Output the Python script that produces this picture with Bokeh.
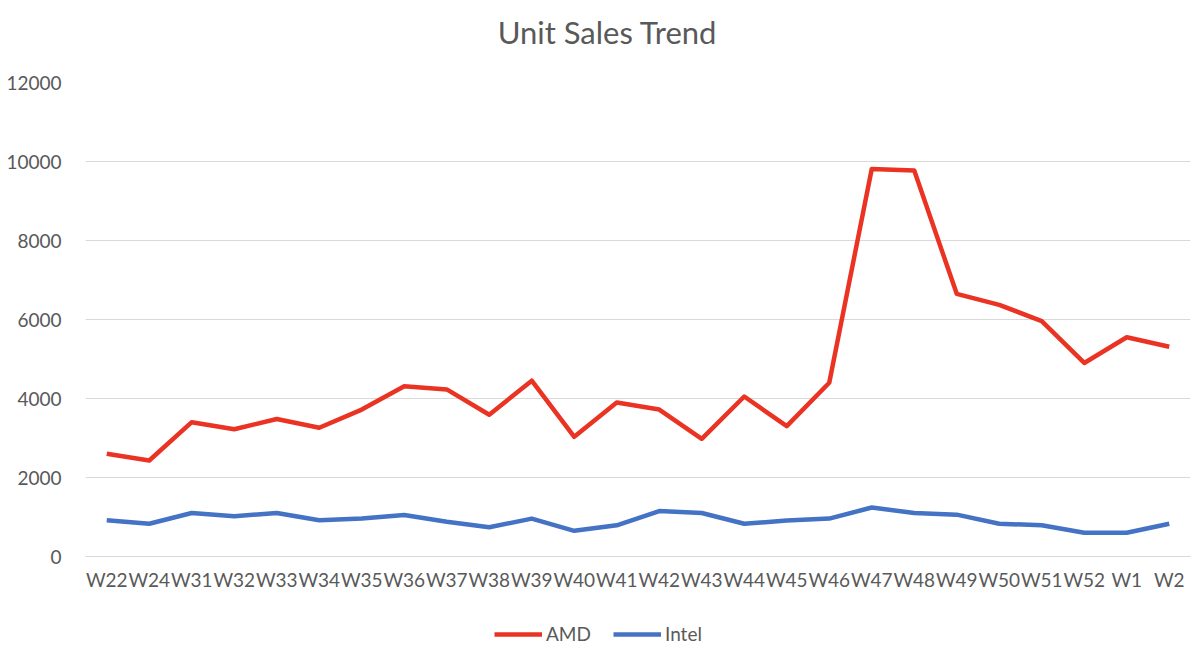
from bokeh.plotting import figure
from bokeh.models import FactorRange, Range1d, Legend, LegendItem, SingleIntervalTicker, Label
from bokeh.layouts import column
from bokeh.embed import file_html
from bokeh.resources import INLINE

weeks = ["W22", "W24", "W31", "W32", "W33", "W34", "W35", "W36", "W37", "W38",
         "W39", "W40", "W41", "W42", "W43", "W44", "W45", "W46", "W47", "W48",
         "W49", "W50", "W51", "W52", "W1", "W2"]
amd = [2600, 2430, 3400, 3220, 3480, 3260, 3720, 4310, 4230, 3590,
       4450, 3030, 3900, 3720, 2980, 4050, 3300, 4400, 9810, 9770,
       6650, 6370, 5960, 4900, 5550, 5310]
intel = [920, 830, 1100, 1020, 1100, 920, 960, 1050, 880, 740,
         960, 650, 790, 1150, 1100, 830, 910, 960, 1240, 1100,
         1060, 830, 790, 600, 600, 830]
title_text = "Unit Sales Trend"

FONT = "Lato"
TXT = "#595959"
RED = "#EA3323"
BLUE = "#4472C4"


def bare(fig):
    fig.min_border = 0
    fig.outline_line_color = None
    fig.grid.visible = False
    return fig


# --- title strip (its frame is aligned with the main frame: x 85..1190) ---
pt = bare(figure(width=1200, height=64, x_range=Range1d(85, 1190), y_range=Range1d(0, 64),
                 x_axis_location=None, y_axis_location=None,
                 output_backend="svg", toolbar_location=None))
pt.add_layout(Label(x=607, y=33, text=title_text, text_align="center",
                    text_baseline="middle", text_font=FONT, text_font_size="31px",
                    text_color=TXT))

# --- main chart ---
p = figure(width=1200, height=536, x_range=FactorRange(*weeks),
           y_range=Range1d(0, 12000), output_backend="svg", toolbar_location=None)
p.min_border_left = 85
p.min_border_right = 10
p.min_border_top = 18
p.min_border_bottom = 44
p.outline_line_color = None

p.yaxis.ticker = SingleIntervalTicker(interval=2000)
p.yaxis.axis_line_color = None
p.yaxis.major_tick_line_color = None
p.yaxis.minor_tick_line_color = None
p.yaxis.major_label_text_font = FONT
p.yaxis.major_label_text_font_size = "19px"
p.yaxis.major_label_text_color = TXT
p.yaxis.major_label_standoff = 18

p.xaxis.axis_line_color = "#D9D9D9"
p.xaxis.major_tick_line_color = None
p.xaxis.minor_tick_line_color = None
p.xaxis.major_label_text_font = FONT
p.xaxis.major_label_text_font_size = "19px"
p.xaxis.major_label_text_color = TXT
p.xaxis.major_label_standoff = 5

p.xgrid.grid_line_color = None
p.ygrid.grid_line_color = "#D9D9D9"
p.ygrid.grid_line_width = 1

p.line(weeks, amd, line_color=RED, line_width=4.5, line_join="round")
p.line(weeks, intel, line_color=BLUE, line_width=4.5, line_join="round")

# --- legend strip (series drawn out of view, only the legend shows) ---
pl = bare(figure(width=1200, height=55, x_range=FactorRange(*weeks),
                 y_range=Range1d(50000, 60000), output_backend="svg",
                 x_axis_location=None, y_axis_location=None,
                 toolbar_location=None))
l1 = pl.line(weeks, amd, line_color=RED, line_width=4.5)
l2 = pl.line(weeks, intel, line_color=BLUE, line_width=4.5)
legend = Legend(items=[LegendItem(label="AMD", renderers=[l1]),
                       LegendItem(label="Intel", renderers=[l2])],
                orientation="horizontal", location=(409, 10),
                border_line_color=None, background_fill_alpha=0,
                label_text_font=FONT, label_text_font_size="19px",
                label_text_color=TXT, glyph_width=48, spacing=22,
                label_standoff=4, margin=0, padding=6)
pl.add_layout(legend, "center")

layout = column(pt, p, pl, spacing=0)
open("out.html", "w").write(file_html(layout, INLINE))
